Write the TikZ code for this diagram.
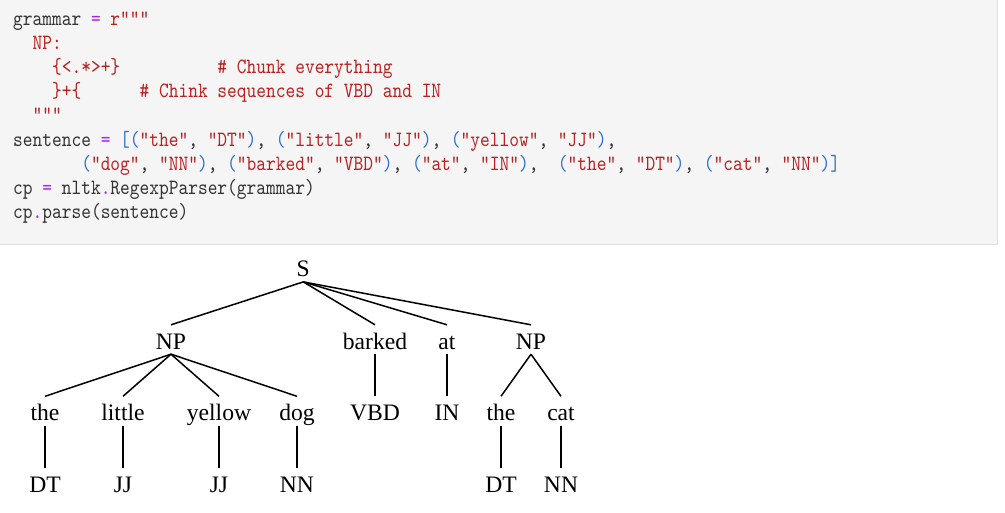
\documentclass[tikz,border=0pt]{standalone}
\usepackage{fontspec}
\setmonofont[FakeStretch=0.85]{lmmono10-regular.otf}
\newfontfamily\treefont{Liberation Serif}
\usetikzlibrary{positioning}
\definecolor{kodetekst}{HTML}{333333}
\definecolor{kodestreng}{HTML}{BA2121}
\definecolor{kodeop}{HTML}{AA22FF}
\definecolor{kodeparentes}{HTML}{2F6FD0}
\definecolor{kodebakgrunn}{HTML}{F5F5F5}
\definecolor{kodekant}{HTML}{E0E0E0}
\newcommand\kstr[1]{\textcolor{kodestreng}{#1}}
\newcommand\kop[1]{\textcolor{kodeop}{#1}}
\newcommand\kpar[1]{\textcolor{kodeparentes}{#1}}
\newcommand\tuppel[2]{\kpar{(}\kstr{"#1"}, \kstr{"#2"}\kpar{)}}
\begin{document}
\begin{tikzpicture}[%
x=1pt,y=-1pt,
kode/.style={anchor=base west,inner sep=0pt,text=kodetekst,font=\ttfamily\fontsize{21.8}{24}\selectfont},
ord/.style={anchor=base,inner sep=0pt,text height=24pt,text depth=5pt,font=\treefont\fontsize{23.6}{28}\selectfont},
gren/.style={line width=1.5pt}]
\useasboundingbox (0,0) rectangle (1005,513);
\fill [kodebakgrunn] (-2,-2) rectangle (998,245);
\draw [kodekant,line width=1.5pt] (997.5,-2) -- (997.5,244.5) -- (-2,244.5);
% kodeblokk
\node [kode] (linje1) at (13,25.1)  {grammar \kop{=} \kstr{r"""}};
\node [kode] (linje2) at (13,49.3)  {\hphantom{xx}\kstr{NP:}};
\node [kode] (linje3) at (13,73.5)  {\hphantom{xxxx}\kstr{\{<.*>+\}\hphantom{xxxxxxxxxx}\# Chunk everything}};
\node [kode] (linje4) at (13,97.7)  {\hphantom{xxxx}\kstr{\}+\{\hphantom{xxxxxx}\# Chink sequences of VBD and IN}};
\node [kode] (linje5) at (13,121.9) {\hphantom{xx}\kstr{"""}};
\node [kode] (linje6) at (13,146.1) {sentence \kop{=} \kpar{[}\tuppel{the}{DT}, \tuppel{little}{JJ}, \tuppel{yellow}{JJ},};
\node [kode] (linje7) at (13,170.3) {\hphantom{xxxxxxx}\tuppel{dog}{NN}, \tuppel{barked}{VBD}, \tuppel{at}{IN},\hphantom{xx}\tuppel{the}{DT}, \tuppel{cat}{NN}\kpar{]}};
\node [kode] (linje8) at (13,194.5) {cp \kop{=} nltk\kop{.}RegexpParser(grammar)};
\node [kode] (linje9) at (13,218.7) {cp\kop{.}parse(sentence)};
% treet
\node [ord] (s)      at (303.3,276.7) {S};
\node [ord] (np1)    at (171,349)     {NP};
\node [ord] (barked) at (375,349)     {barked};
\node [ord] (at)     at (447,349)     {at};
\node [ord] (np2)    at (531,349)     {NP};
\node [ord] (the1)   at (45,420.5)    {the};
\node [ord] (little) at (123,420.5)   {little};
\node [ord] (yellow) at (219,420.5)   {yellow};
\node [ord] (dog)    at (297,420.5)   {dog};
\node [ord] (vbd)    at (375,420.5)   {VBD};
\node [ord] (in1)    at (447,420.5)   {IN};
\node [ord] (the2)   at (501,420.5)   {the};
\node [ord] (cat)    at (561,420.5)   {cat};
\node [ord] (dt1)    at (45,492.5)    {DT};
\node [ord] (jj1)    at (123,492.5)   {JJ};
\node [ord] (jj2)    at (219,492.5)   {JJ};
\node [ord] (nn1)    at (297,492.5)   {NN};
\node [ord] (dt2)    at (501,492.5)   {DT};
\node [ord] (nn2)    at (561,492.5)   {NN};
\foreach \fra/\til in {s/np1,s/barked,s/at,s/np2,np1/the1,np1/little,np1/yellow,np1/dog,
  barked/vbd,at/in1,np2/the2,np2/cat,the1/dt1,little/jj1,yellow/jj2,dog/nn1,the2/dt2,cat/nn2}
  \draw [gren] (\fra.south) -- (\til.north);
\end{tikzpicture}
\end{document}
